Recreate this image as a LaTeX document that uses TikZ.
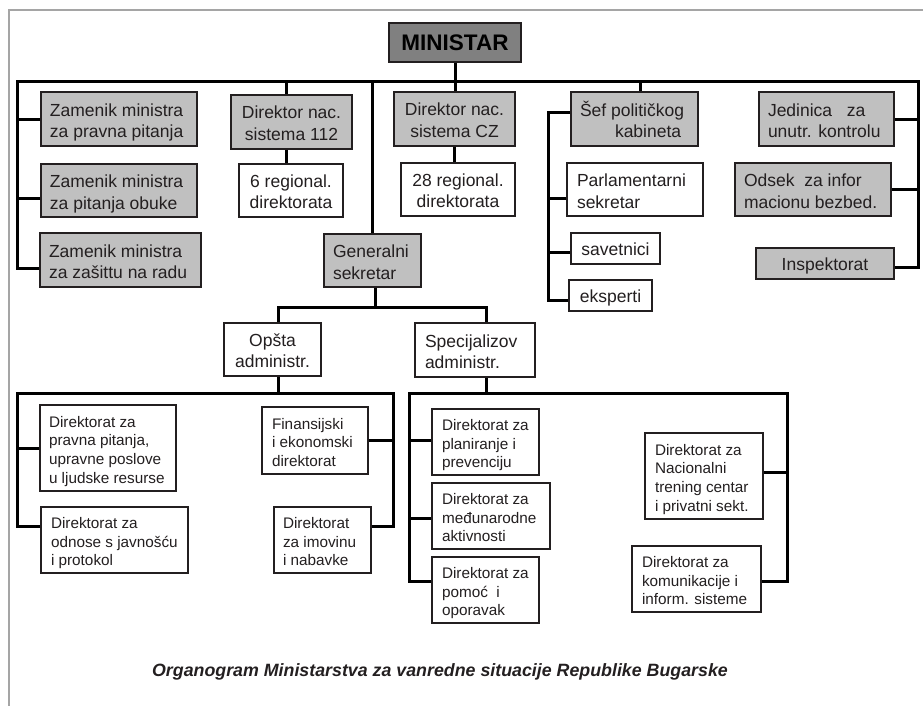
\documentclass[tikz,border=0pt]{standalone}
\usepackage{fontspec}
\setmainfont{Liberation Sans}
\usetikzlibrary{calc}
\definecolor{shade}{RGB}{192,192,192}
\definecolor{darkshade}{RGB}{128,128,128}
\definecolor{framegray}{RGB}{165,165,165}
\definecolor{ink}{RGB}{35,31,32}
% left-aligned box: name, x1, y1, x2, y2, left pad, style, text
\newcommand{\lbox}[8]{%
 \pgfmathsetmacro{\myBW}{#4-#2}%
 \pgfmathsetmacro{\myBH}{#5-#3}%
 \pgfmathsetmacro{\myCX}{(#2+#4)/2}%
 \pgfmathsetmacro{\myCY}{(#3+#5)/2}%
 \node[#7, inner xsep=0pt, minimum width=\myBW pt, minimum height=\myBH pt] (#1) at (\myCX,\myCY)
   {\makebox[\myBW pt][l]{\hspace*{#6pt}\raisebox{-3.5pt}[\height][\depth]{\begin{tabular}{@{}l@{}}#8\end{tabular}}}};}
% centred box: name, x1, y1, x2, y2, style, text
\newcommand{\cbox}[7]{%
 \pgfmathsetmacro{\myBW}{#4-#2}%
 \pgfmathsetmacro{\myBH}{#5-#3}%
 \pgfmathsetmacro{\myCX}{(#2+#4)/2}%
 \pgfmathsetmacro{\myCY}{(#3+#5)/2}%
 \node[#6, inner xsep=0pt, minimum width=\myBW pt, minimum height=\myBH pt] (#1) at (\myCX,\myCY)
   {\raisebox{-3pt}[\height][\depth]{\begin{tabular}{@{}c@{}}#7\end{tabular}}};}
\tikzset{
 box/.style={draw=ink, line width=1.1pt, inner ysep=0pt, text=ink, font=\fontsize{17.5}{21.5}\selectfont},
 gbox/.style={box, fill=shade},
 wbox/.style={box, fill=white},
 sbox/.style={wbox, font=\fontsize{15.3}{18.7}\selectfont},
 conn/.style={draw=black, line width=3pt, line join=miter},
 framestyle/.style={draw=framegray, line width=2.5pt}
}
\begin{document}
\begin{tikzpicture}[x=1pt, y=-1pt]
\useasboundingbox (0,0) rectangle (923,705);
\draw[framestyle] (930,10) -- (9,10) -- (9,712);

% ---- top level
\cbox{min}{389}{23}{521}{62}{box, fill=darkshade, text=black, font=\fontsize{22.5}{26}\selectfont\bfseries}{MINISTAR}

\lbox{z1}{41}{92}{197}{146}{9}{gbox}{Zamenik ministra\\za pravna pitanja}
\lbox{z2}{41}{164}{197}{217}{9}{gbox}{Zamenik ministra\\za pitanja obuke}
\lbox{z3}{40}{233}{201}{287}{9}{gbox}{Zamenik ministra\\za zašittu na radu}

\cbox{d112}{231}{95}{352}{149}{gbox}{Direktor nac.\\sistema 112}
\cbox{r6}{239}{164}{343}{217}{wbox}{6 regional.\\direktorata}
\lbox{gs}{324}{234}{421}{287}{9}{gbox}{Generalni\\sekretar}

\cbox{dcz}{394}{92}{515}{146}{gbox}{Direktor nac.\\sistema CZ}
\cbox{r28}{401}{163}{515}{216}{wbox}{28 regional.\\direktorata}

\lbox{sef}{571}{92}{698}{146}{9}{gbox}{Šef političkog\\\hspace*{35pt}kabineta}
\lbox{parl}{567}{163}{703}{216}{10}{wbox}{Parlamentarni\\sekretar}
\cbox{sav}{571}{233}{660}{264}{wbox}{savetnici}
\cbox{eks}{569}{280}{652}{311}{wbox}{eksperti}

\lbox{jed}{759}{92}{894}{146}{9}{gbox}{Jedinica\ \ \ za\\unutr. kontrolu}
\lbox{ods}{735}{163}{891}{216}{9}{gbox}{Odsek\ \ za infor\\macionu bezbed.}
\cbox{insp}{756}{248}{894}{279}{gbox}{Inspektorat}

% ---- administrations
\cbox{opsta}{224}{323}{321}{376}{wbox}{Opšta\\administr.}
\lbox{spec}{415}{323}{535}{377}{10}{wbox}{Specijalizov\\administr.}

\lbox{a1}{40}{405}{176}{491}{9}{sbox}{Direktorat za\\pravna pitanja,\\upravne poslove\\u ljudske resurse}
\lbox{a2}{41}{507}{188}{573}{10}{sbox}{Direktorat za\\odnose s javnošću\\i protokol}
\lbox{fin}{262}{407}{368}{474}{10}{sbox}{Finansijski\\i ekonomski\\direktorat}
\lbox{imo}{274}{507}{371}{573}{9}{sbox}{Direktorat\\za imovinu\\i nabavke}

\lbox{s1}{432}{409}{539}{475}{10}{sbox}{Direktorat za\\planiranje i\\prevenciju}
\lbox{s2}{432}{483}{550}{549}{10}{sbox}{Direktorat za\\međunarodne\\aktivnosti}
\lbox{s3}{432}{557}{539}{623}{10}{sbox}{Direktorat za\\pomoć\ \ i\\oporavak}
\lbox{nac}{645}{433}{763}{519}{10}{sbox}{Direktorat za\\Nacionalni\\trening centar\\i privatni sekt.}
\lbox{kom}{632}{546}{761}{612}{10}{sbox}{Direktorat za\\komunikacije i\\inform. sisteme}

\node[text=ink, font=\fontsize{17.8}{21}\selectfont\bfseries\itshape] (cap) at (440,672) {Organogram Ministarstva za vanredne situacije Republike Bugarske};

% ---- connectors, top level
\coordinate (tbL) at (17,81);
\coordinate (tbR) at (918,81);
\coordinate (z2b) at ([yshift=-8pt]z2.west);
\coordinate (z3b) at ([yshift=-8pt]z3.west);
\coordinate (inspb) at ([yshift=-3.5pt]insp.east);
\draw[conn] (z3b) -| (tbL) -- (tbR) |- (inspb);
\draw[conn] (z1.west) -- (z1.west -| tbL);
\draw[conn] (z2b) -- (z2b -| tbL);
\draw[conn] (jed.east) -- (jed.east -| tbR);
\draw[conn] (ods.east) -- (ods.east -| tbR);

\draw[conn] (min.south) -- (min.south |- dcz.north);
\draw[conn] (dcz.south) -- (dcz.south |- r28.north);

\coordinate (d112t) at ([xshift=-5.5pt]d112.north);
\coordinate (d112s) at ([xshift=-5.5pt]d112.south);
\draw[conn] (d112t |- tbL) -- (d112t);
\draw[conn] (d112s) -- (d112s |- r6.north);

\draw[conn] (gs.north |- tbL) -- (gs.north);

\coordinate (seft) at ([xshift=5.5pt]sef.north);
\draw[conn] (seft |- tbL) -- (seft);

\coordinate (sX) at (548,0);
\coordinate (sefw) at ([yshift=7pt]sef.west);
\coordinate (parlw) at ([yshift=-8.5pt]parl.west);
\coordinate (savw) at ([yshift=-3.5pt]sav.west);
\coordinate (eksw) at ([yshift=-4.5pt]eks.west);
\draw[conn] (sefw) -| (eksw -| sX) -- (eksw);
\draw[conn] (parlw) -- (parlw -| sX);
\draw[conn] (savw) -- (savw -| sX);

% ---- general secretary
\coordinate (gsb) at ([xshift=2.5pt]gs.south);
\coordinate (gsbus) at (375,307);
\coordinate (opst) at ([xshift=5.5pt]opsta.north);
\coordinate (spect) at ([xshift=11pt]spec.north);
\draw[conn] (gsb) -- (gsbus);
\draw[conn] (opst) |- (gsbus) -| (spect);

% ---- general administration
\coordinate (b2L) at (17,393);
\coordinate (b2R) at (393,393);
\coordinate (opsb) at ([xshift=5.5pt]opsta.south);
\coordinate (a2w) at ([yshift=14pt]a2.west);
\coordinate (imoe) at ([yshift=14pt]imo.east);
\draw[conn] (opsb) -- (opsb |- b2L);
\draw[conn] (a2w) -| (b2L) -- (b2R) |- (imoe);
\draw[conn] (a1.west) -- (a1.west -| b2L);
\draw[conn] (fin.east) -- (fin.east -| b2R);

% ---- specialised administration
\coordinate (b3L) at (409,393);
\coordinate (b3R) at (787,393);
\coordinate (specb) at ([xshift=11pt]spec.south);
\coordinate (s1w) at ([yshift=2pt]s1.west);
\coordinate (s2w) at ([yshift=-2pt]s2.west);
\coordinate (s3w) at ([yshift=9pt]s3.west);
\coordinate (nace) at ([yshift=4pt]nac.east);
\coordinate (kome) at ([yshift=-2pt]kom.east);
\draw[conn] (specb) -- (specb |- b3L);
\draw[conn] (s3w) -| (b3L) -- (b3R) |- (kome);
\draw[conn] (s1w) -- (s1w -| b3L);
\draw[conn] (s2w) -- (s2w -| b3L);
\draw[conn] (nace) -- (nace -| b3R);
\end{tikzpicture}
\end{document}
